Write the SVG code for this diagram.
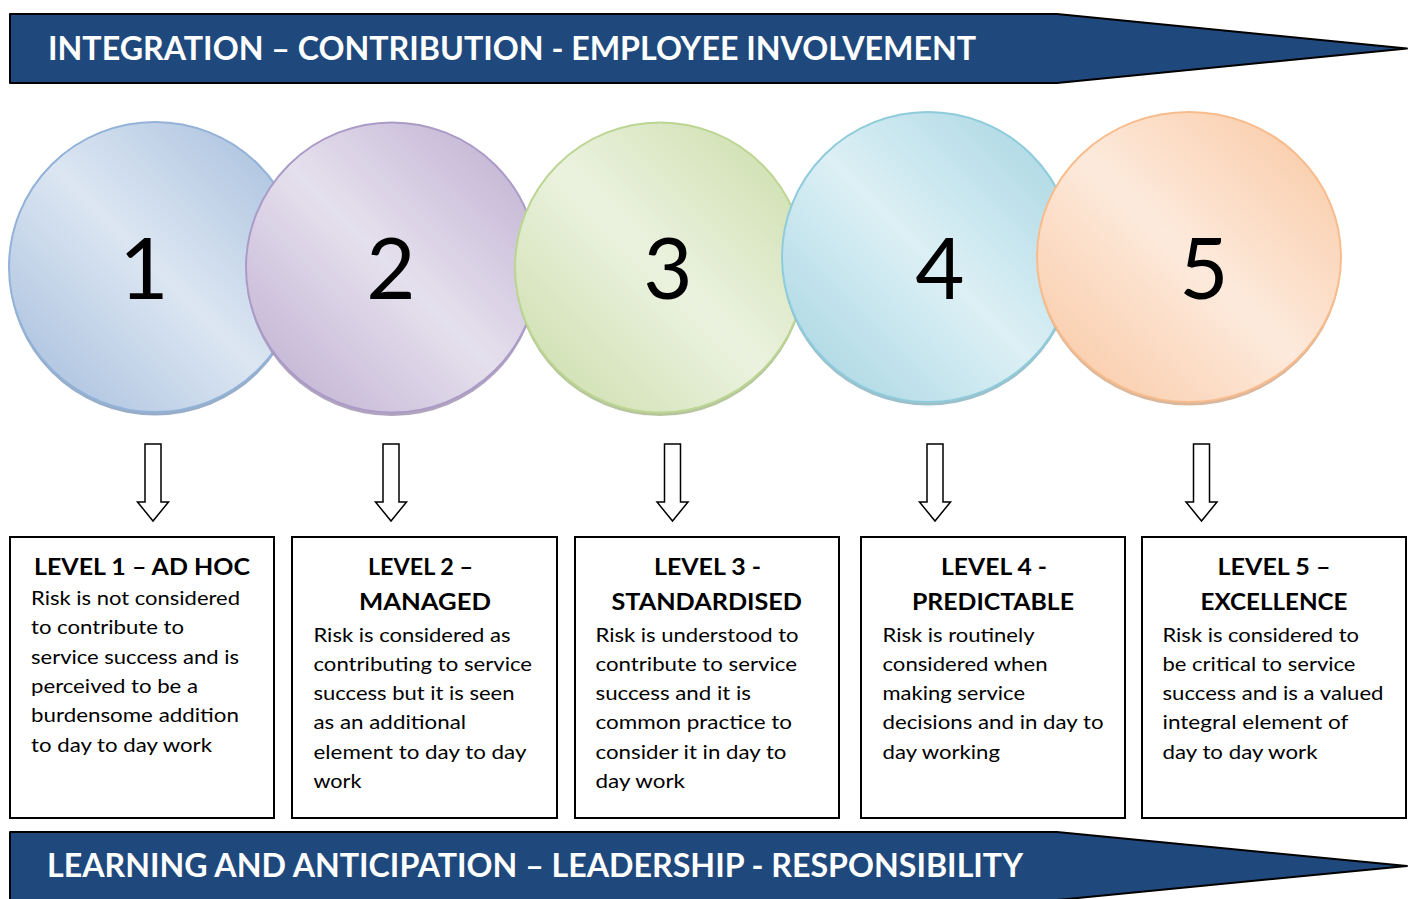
<svg xmlns="http://www.w3.org/2000/svg" width="1410" height="899" viewBox="0 0 1410 899">
  <defs>
    <style>
      .banner { fill: #1f497d; stroke: #000; stroke-width: 2; stroke-linejoin: round; }
      .bt { font-family: Lato, "Open Sans", "Liberation Sans", sans-serif; font-weight: 700; font-size: 33px; fill: #fff; }
      .num { font-family: Lato, "Open Sans", "Liberation Sans", sans-serif; font-size: 85px; fill: #000; text-anchor: middle; }
      .box { fill: #fff; stroke: #000; stroke-width: 2; }
      .ttl { font-family: Lato, "Open Sans", "Liberation Sans", sans-serif; font-weight: 700; font-size: 23.5px; fill: #000; }
      .body { font-family: Lato, "Open Sans", "Liberation Sans", sans-serif; font-size: 19px; fill: #000; }
      .arrow { fill: #fff; stroke: #000; stroke-width: 1.5; stroke-linejoin: miter; }
      .shadow { opacity: 0.85; }
    </style>
    <!-- diagonal sheen: darker at top-right and bottom-left -->
    <linearGradient id="gBlue" x1="1" y1="0" x2="0" y2="1">
      <stop offset="0" stop-color="#a3bcdc"/>
      <stop offset="0.5" stop-color="#dce6f2"/>
      <stop offset="1" stop-color="#a3bcdc"/>
    </linearGradient>
    <linearGradient id="gPurple" x1="1" y1="0" x2="0" y2="1">
      <stop offset="0" stop-color="#bcaccf"/>
      <stop offset="0.5" stop-color="#e5e0ed"/>
      <stop offset="1" stop-color="#bcaccf"/>
    </linearGradient>
    <linearGradient id="gGreen" x1="1" y1="0" x2="0" y2="1">
      <stop offset="0" stop-color="#cadca7"/>
      <stop offset="0.5" stop-color="#ebf2df"/>
      <stop offset="1" stop-color="#cadca7"/>
    </linearGradient>
    <linearGradient id="gCyan" x1="1" y1="0" x2="0" y2="1">
      <stop offset="0" stop-color="#a3d3e1"/>
      <stop offset="0.5" stop-color="#dcf0f5"/>
      <stop offset="1" stop-color="#a3d3e1"/>
    </linearGradient>
    <linearGradient id="gOrange" x1="1" y1="0" x2="0" y2="1">
      <stop offset="0" stop-color="#f9c6a0"/>
      <stop offset="0.5" stop-color="#fdeadc"/>
      <stop offset="1" stop-color="#f9c6a0"/>
    </linearGradient>
    <!-- hollow block arrow pointing down, centred on x=0 -->
    <path id="downArrow" class="arrow" d="M-8,444 H8 V502 H15.5 L0,521 L-15.5,502 H-8 Z"/>
  </defs>

  <rect width="1410" height="899" fill="#fff"/>

  <!-- top banner -->
  <g id="banner-top">
    <path class="banner" d="M10,14 H1057 L1407,48.5 L1057,83 H10 Z"/>
    <text class="bt" x="48" y="60" textLength="928" lengthAdjust="spacingAndGlyphs">INTEGRATION – CONTRIBUTION - EMPLOYEE INVOLVEMENT</text>
  </g>

  <!-- level circles, each drawn over the previous one -->
  <g id="circle-1">
    <ellipse class="shadow" cx="155" cy="270.5" rx="146" ry="145" fill="#869fbd"/>
    <ellipse cx="155" cy="267" rx="146" ry="145" fill="url(#gBlue)" stroke="#93b2d8" stroke-width="2"/>
    <text class="num" x="144" y="299">1</text>
  </g>
  <g id="circle-2">
    <ellipse class="shadow" cx="392" cy="271" rx="146" ry="145" fill="#a294b3"/>
    <ellipse cx="392" cy="267.5" rx="146" ry="145" fill="url(#gPurple)" stroke="#ab9bc7" stroke-width="2"/>
    <text class="num" x="391" y="299">2</text>
  </g>
  <g id="circle-3">
    <ellipse class="shadow" cx="660" cy="271" rx="145" ry="145" fill="#a9bb8c"/>
    <ellipse cx="660" cy="267.5" rx="145" ry="145" fill="url(#gGreen)" stroke="#bcd592" stroke-width="2"/>
    <text class="num" x="668" y="299">3</text>
  </g>
  <g id="circle-4">
    <ellipse class="shadow" cx="928" cy="260.5" rx="146" ry="145" fill="#8cb4c1"/>
    <ellipse cx="928" cy="257" rx="146" ry="145" fill="url(#gCyan)" stroke="#8ecbdb" stroke-width="2"/>
    <text class="num" x="940" y="299">4</text>
  </g>
  <g id="circle-5">
    <ellipse class="shadow" cx="1189" cy="260.5" rx="152" ry="145" fill="#d2aa8c"/>
    <ellipse cx="1189" cy="257" rx="152" ry="145" fill="url(#gOrange)" stroke="#f8bc8c" stroke-width="2"/>
    <text class="num" x="1204" y="299">5</text>
  </g>

  <!-- arrows from circles to level boxes -->
  <g id="connectors">
    <use href="#downArrow" x="153"/>
    <use href="#downArrow" x="391"/>
    <use href="#downArrow" x="672.5"/>
    <use href="#downArrow" x="935"/>
    <use href="#downArrow" x="1201.5"/>
  </g>

  <g id="level-1">
    <rect class="box" x="10" y="537" width="264" height="281"/>
    <text class="ttl" x="34" y="575" textLength="216" lengthAdjust="spacingAndGlyphs">LEVEL 1 – AD HOC</text>
    <text class="body" x="31" y="605" textLength="209" lengthAdjust="spacingAndGlyphs">Risk is not considered</text>
    <text class="body" x="31" y="634.3" textLength="153" lengthAdjust="spacingAndGlyphs">to contribute to</text>
    <text class="body" x="31" y="663.6" textLength="208" lengthAdjust="spacingAndGlyphs">service success and is</text>
    <text class="body" x="31" y="692.9" textLength="167" lengthAdjust="spacingAndGlyphs">perceived to be a</text>
    <text class="body" x="31" y="722.2" textLength="208" lengthAdjust="spacingAndGlyphs">burdensome addition</text>
    <text class="body" x="31" y="751.5" textLength="181" lengthAdjust="spacingAndGlyphs">to day to day work</text>
  </g>

  <g id="level-2">
    <rect class="box" x="292" y="537" width="265" height="281"/>
    <text class="ttl" x="368" y="575" textLength="105" lengthAdjust="spacingAndGlyphs">LEVEL 2 –</text>
    <text class="ttl" x="359" y="610" textLength="132" lengthAdjust="spacingAndGlyphs">MANAGED</text>
    <text class="body" x="313.5" y="641.5" textLength="197" lengthAdjust="spacingAndGlyphs">Risk is considered as</text>
    <text class="body" x="313.5" y="670.8" textLength="218.5" lengthAdjust="spacingAndGlyphs">contributing to service</text>
    <text class="body" x="313.5" y="700.1" textLength="201" lengthAdjust="spacingAndGlyphs">success but it is seen</text>
    <text class="body" x="313.5" y="729.4" textLength="152.5" lengthAdjust="spacingAndGlyphs">as an additional</text>
    <text class="body" x="313.5" y="758.7" textLength="213" lengthAdjust="spacingAndGlyphs">element to day to day</text>
    <text class="body" x="313.5" y="788" textLength="48" lengthAdjust="spacingAndGlyphs">work</text>
  </g>

  <g id="level-3">
    <rect class="box" x="575" y="537" width="264" height="281"/>
    <text class="ttl" x="654" y="575" textLength="107" lengthAdjust="spacingAndGlyphs">LEVEL 3 -</text>
    <text class="ttl" x="611.5" y="610" textLength="190.5" lengthAdjust="spacingAndGlyphs">STANDARDISED</text>
    <text class="body" x="595.5" y="641.5" textLength="203" lengthAdjust="spacingAndGlyphs">Risk is understood to</text>
    <text class="body" x="595.5" y="670.8" textLength="201.5" lengthAdjust="spacingAndGlyphs">contribute to service</text>
    <text class="body" x="595.5" y="700.1" textLength="155.5" lengthAdjust="spacingAndGlyphs">success and it is</text>
    <text class="body" x="595.5" y="729.4" textLength="196.5" lengthAdjust="spacingAndGlyphs">common practice to</text>
    <text class="body" x="595.5" y="758.7" textLength="191" lengthAdjust="spacingAndGlyphs">consider it in day to</text>
    <text class="body" x="595.5" y="788" textLength="89.5" lengthAdjust="spacingAndGlyphs">day work</text>
  </g>

  <g id="level-4">
    <rect class="box" x="861" y="537" width="264" height="281"/>
    <text class="ttl" x="941" y="575" textLength="106" lengthAdjust="spacingAndGlyphs">LEVEL 4 -</text>
    <text class="ttl" x="912" y="610" textLength="162" lengthAdjust="spacingAndGlyphs">PREDICTABLE</text>
    <text class="body" x="882.5" y="641.5" textLength="152" lengthAdjust="spacingAndGlyphs">Risk is routinely</text>
    <text class="body" x="882.5" y="670.8" textLength="165" lengthAdjust="spacingAndGlyphs">considered when</text>
    <text class="body" x="882.5" y="700.1" textLength="142.5" lengthAdjust="spacingAndGlyphs">making service</text>
    <text class="body" x="882.5" y="729.4" textLength="221" lengthAdjust="spacingAndGlyphs">decisions and in day to</text>
    <text class="body" x="882.5" y="758.7" textLength="117.5" lengthAdjust="spacingAndGlyphs">day working</text>
  </g>

  <g id="level-5">
    <rect class="box" x="1142" y="537" width="264" height="281"/>
    <text class="ttl" x="1217.5" y="575" textLength="113" lengthAdjust="spacingAndGlyphs">LEVEL 5 –</text>
    <text class="ttl" x="1200.5" y="610" textLength="147" lengthAdjust="spacingAndGlyphs">EXCELLENCE</text>
    <text class="body" x="1162.5" y="641.5" textLength="196.5" lengthAdjust="spacingAndGlyphs">Risk is considered to</text>
    <text class="body" x="1162.5" y="670.8" textLength="193" lengthAdjust="spacingAndGlyphs">be critical to service</text>
    <text class="body" x="1162.5" y="700.1" textLength="221" lengthAdjust="spacingAndGlyphs">success and is a valued</text>
    <text class="body" x="1162.5" y="729.4" textLength="186" lengthAdjust="spacingAndGlyphs">integral element of</text>
    <text class="body" x="1162.5" y="758.7" textLength="155" lengthAdjust="spacingAndGlyphs">day to day work</text>
  </g>

  <!-- bottom banner -->
  <g id="banner-bottom">
    <path class="banner" d="M10,832 H1057 L1407,866 L1057,900 H10 Z"/>
    <text class="bt" x="47" y="877" textLength="976" lengthAdjust="spacingAndGlyphs">LEARNING AND ANTICIPATION – LEADERSHIP - RESPONSIBILITY</text>
  </g>
</svg>
